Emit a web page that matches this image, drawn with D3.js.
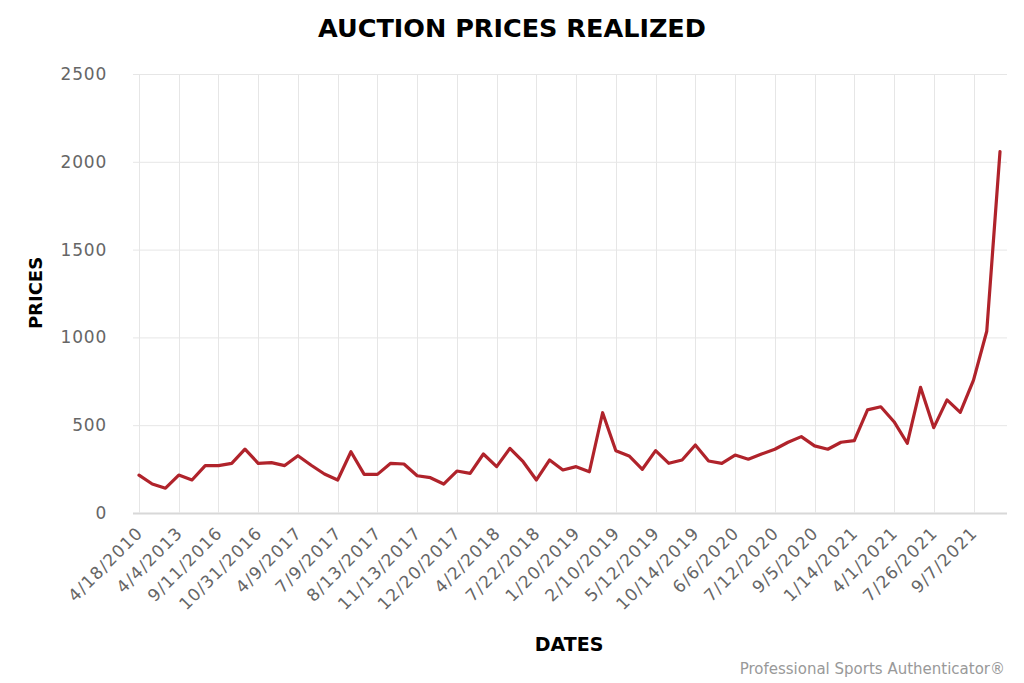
<!DOCTYPE html>
<html><head><meta charset="utf-8">
<script src="https://cdn.jsdelivr.net/npm/d3@7"></script>
<style>body{margin:0;background:#fff;}svg{display:block;}</style>
</head><body>
<script>
const title = "AUCTION PRICES REALIZED";
const yTitle = "PRICES";
const xTitle = "DATES";
const credit = "Professional Sports Authenticator®";
const tickLabels = ["4/18/2010","4/4/2013","9/11/2016","10/31/2016","4/9/2017","7/9/2017","8/13/2017","11/13/2017","12/20/2017","4/2/2018","7/22/2018","1/20/2019","2/10/2019","5/12/2019","10/14/2019","6/6/2020","7/12/2020","9/5/2020","1/14/2021","4/1/2021","7/26/2021","9/7/2021"];
const tickEvery = 3;
const prices = [216,165,141,216,188,270,270,283,364,283,287,270,326,272,222,188,
  349,220,220,283,279,212,201,165,239,226,336,264,368,292,188,302,245,264,235,571,
  355,325,249,355,283,302,387,296,283,330,306,336,363,403,435,382,363,403,412,587,
  605,520,397,716,486,644,573,757,1035,2058];
const yTicks = [0,500,1000,1500,2000,2500];

const W = 1024, H = 683;
const svg = d3.select("body").append("svg").attr("width", W).attr("height", H);
const pRight = 1007, pTop = 74, pBottom = 513;
const x = d3.scaleLinear().domain([0, prices.length - 1]).range([139, 1000]);
const y = d3.scaleLinear().domain([0, 2500]).range([pBottom, pTop]);
const font = "'DejaVu Sans', Verdana, sans-serif";

// horizontal grid
svg.append("g").selectAll("line").data(yTicks).join("line")
  .attr("x1", 133).attr("x2", pRight)
  .attr("y1", d => y(d) + 0.5).attr("y2", d => y(d) + 0.5)
  .attr("stroke", d => d === 0 ? "#d8d8d8" : "#e6e6e6").attr("stroke-width", d => d === 0 ? 2 : 1);
// vertical grid
const tickIdx = tickLabels.map((_, i) => i * tickEvery);
svg.append("g").selectAll("line").data(tickIdx).join("line")
  .attr("x1", d => Math.round(x(d)) + 0.5).attr("x2", d => Math.round(x(d)) + 0.5)
  .attr("y1", pTop).attr("y2", pBottom)
  .attr("stroke", "#e6e6e6").attr("stroke-width", 1);

// y labels
svg.append("g").selectAll("text").data(yTicks).join("text")
  .attr("x", 107).attr("y", d => y(d) + 6)
  .attr("text-anchor", "end").attr("font-family", font).attr("font-size", 17)
  .attr("letter-spacing", 0.8)
  .attr("fill", "#666").text(d => d);

// x labels
svg.append("g").selectAll("text").data(tickLabels).join("text")
  .attr("transform", (d, i) => `translate(${x(i * tickEvery) + 5},${534}) rotate(-45)`)
  .attr("text-anchor", "end").attr("font-family", font).attr("font-size", 17)
  .attr("letter-spacing", 1.1)
  .attr("fill", "#666").text(d => d);

// line
const line = d3.line().x((d, i) => x(i)).y(d => y(d));
svg.append("path").datum(prices).attr("d", line)
  .attr("fill", "none").attr("stroke", "#b0232b").attr("stroke-width", 3.2)
  .attr("stroke-linejoin", "round").attr("stroke-linecap", "round");

// titles
svg.append("text").attr("x", 512).attr("y", 37).attr("text-anchor", "middle")
  .attr("font-family", font).attr("font-weight", "bold").attr("font-size", 25.5)
  .attr("fill", "#000").text(title);
svg.append("text").attr("transform", "translate(42,293) rotate(-90)").attr("text-anchor", "middle")
  .attr("font-family", font).attr("font-weight", "bold").attr("font-size", 18)
  .attr("fill", "#000").text(yTitle);
svg.append("text").attr("x", 569).attr("y", 651).attr("text-anchor", "middle")
  .attr("font-family", font).attr("font-weight", "bold").attr("font-size", 19)
  .attr("fill", "#000").text(xTitle);
svg.append("text").attr("x", 1005).attr("y", 674).attr("text-anchor", "end")
  .attr("font-family", font).attr("font-size", 15)
  .attr("fill", "#999").text(credit);
</script>
</body></html>
